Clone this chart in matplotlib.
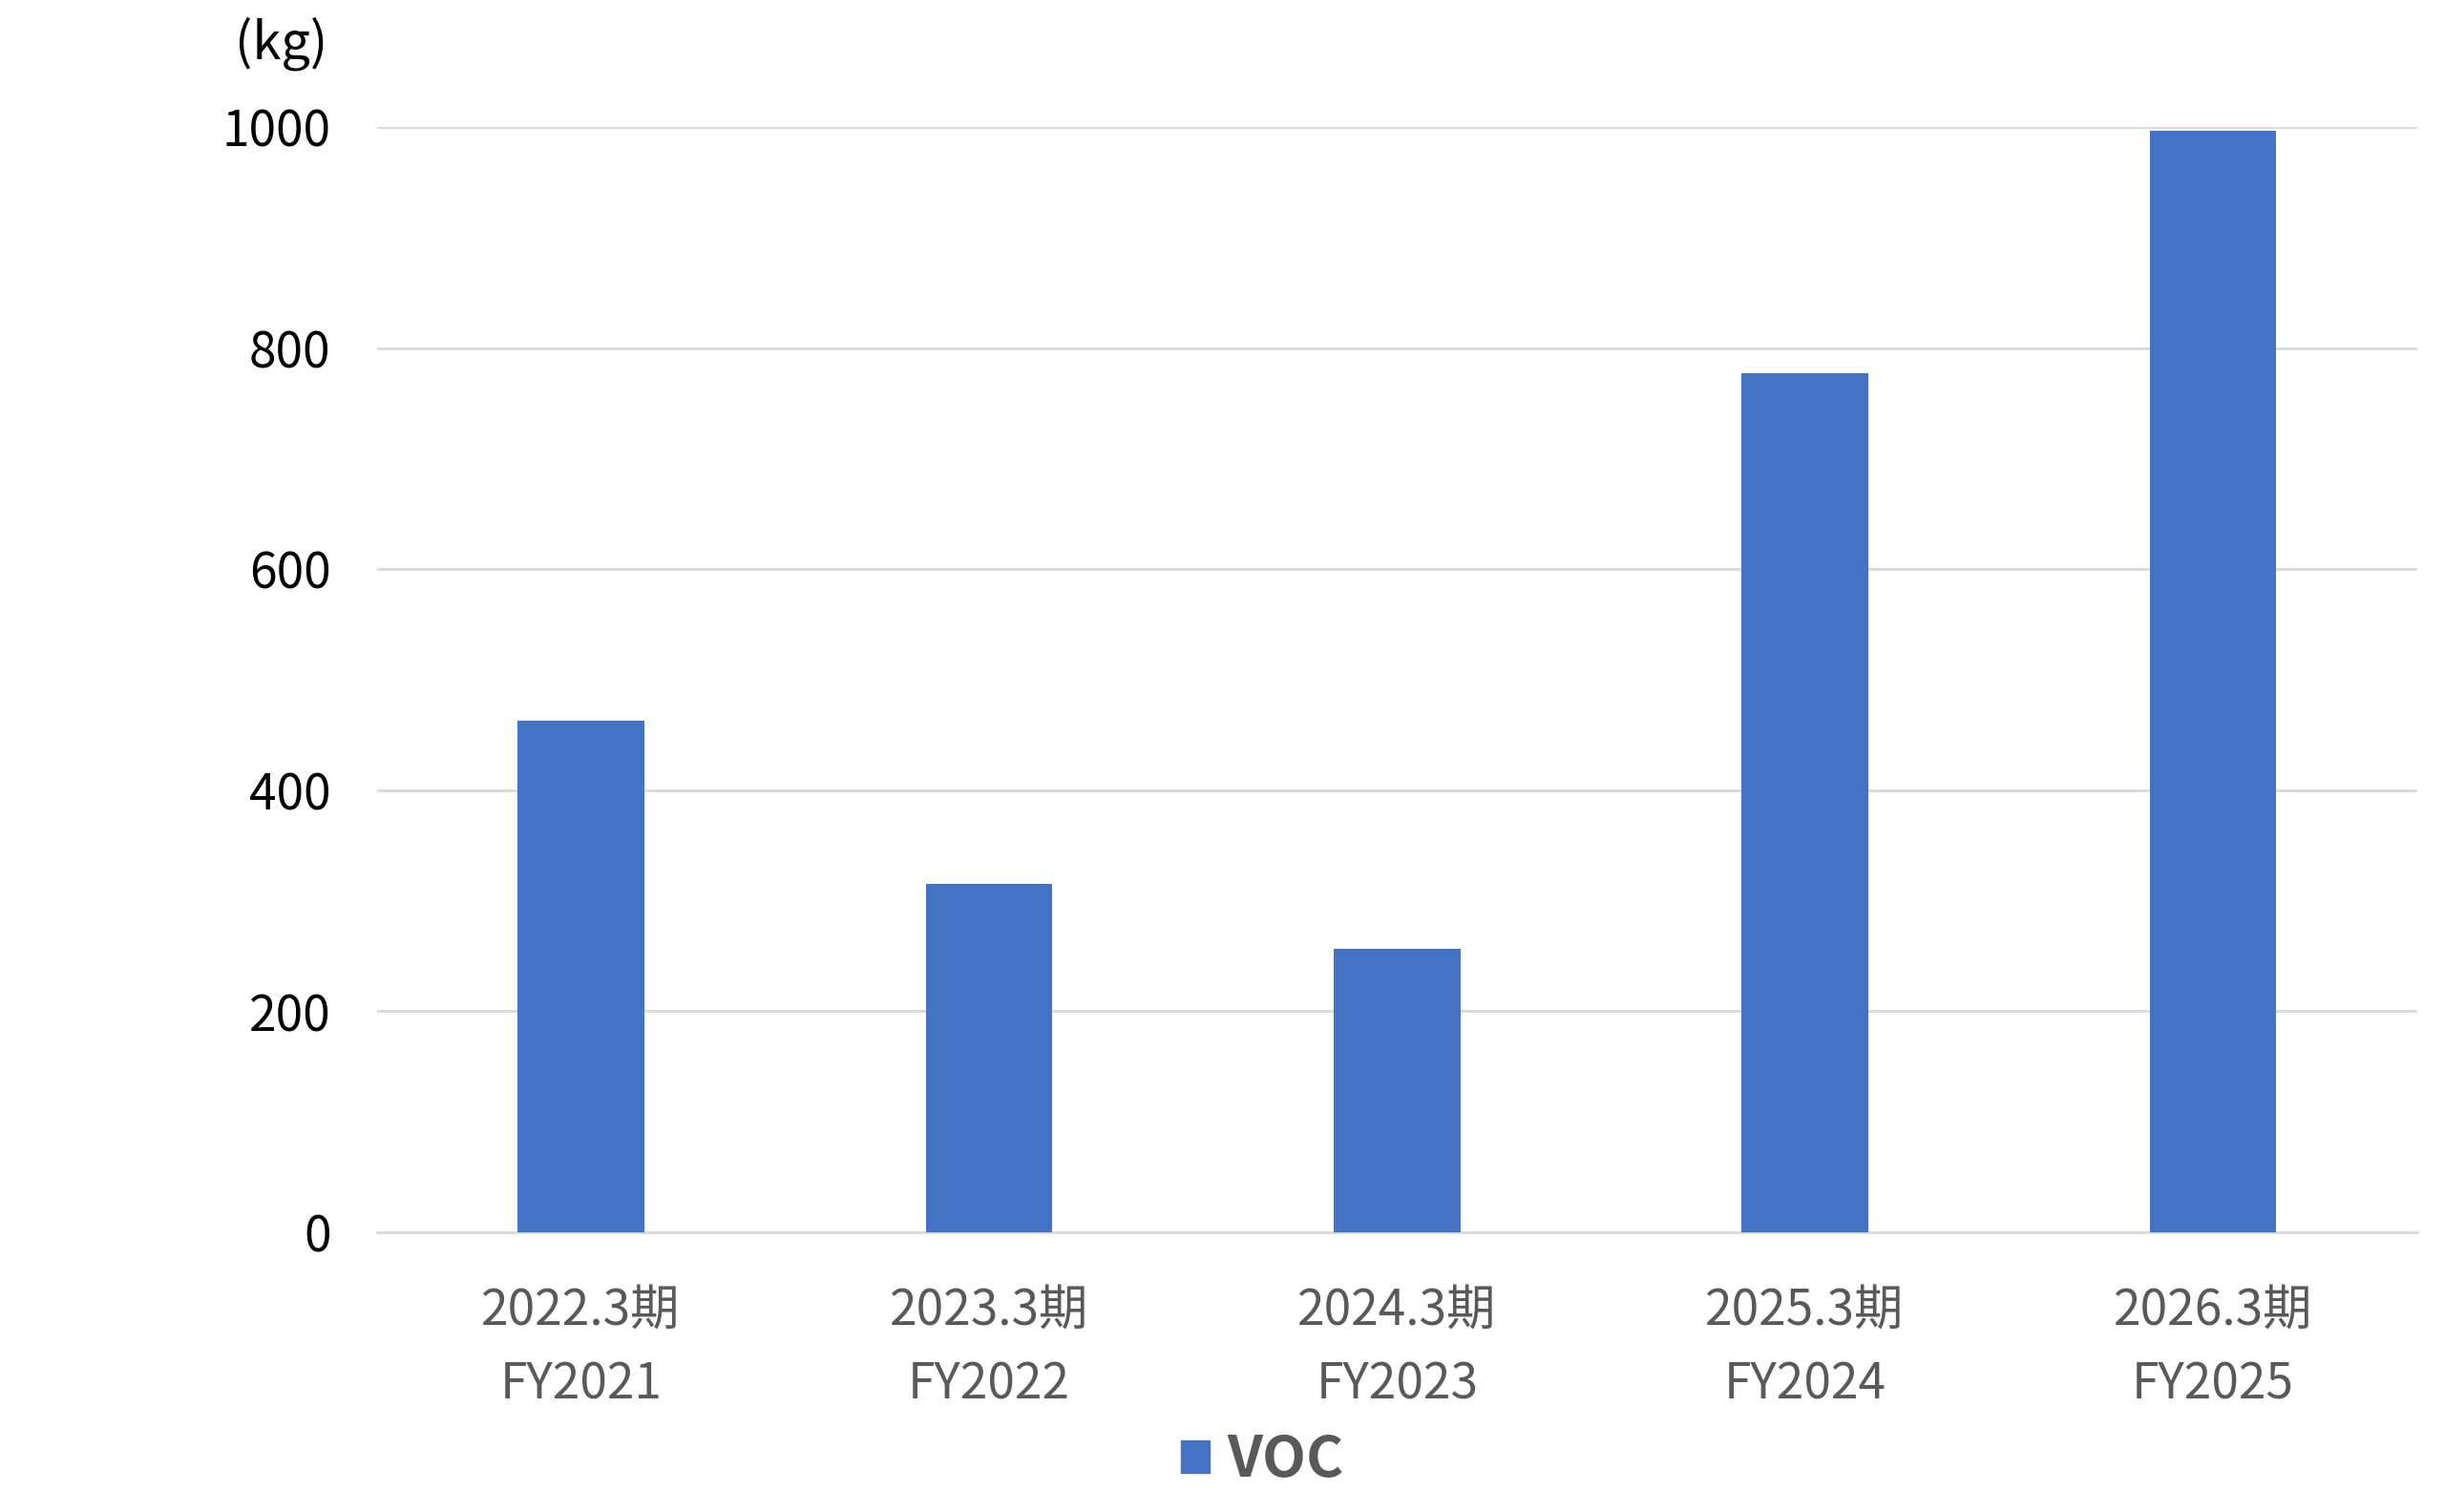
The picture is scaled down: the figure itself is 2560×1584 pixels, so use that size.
import matplotlib
matplotlib.use("Agg")
import matplotlib.pyplot as plt
from matplotlib.patches import Patch

plt.rcParams["font.family"] = ["Noto Sans CJK JP", "DejaVu Sans"]

# データ (kg)
periods = ["2022.3期", "2023.3期", "2024.3期", "2025.3期", "2026.3期"]
fiscal_years = ["FY2021", "FY2022", "FY2023", "FY2024", "FY2025"]
voc = [463, 315, 256, 777, 997]
y_ticks = [0, 200, 400, 600, 800, 1000]

BAR = "#4472C4"
GRID = "#D9D9D9"
GRAY = "#595959"

fig = plt.figure(figsize=(25.6, 15.84), dpi=100)
ax = fig.add_axes([0.1543, 0.1851, 0.8346, 0.7309])

x = range(len(periods))
ax.bar(x, voc, width=0.31, color=BAR, zorder=3)

ax.set_xlim(-0.5, len(periods) - 0.5)
ax.set_ylim(0, 1000)
ax.set_yticks(y_ticks)
ax.set_yticklabels([str(v) for v in y_ticks], fontsize=37, color="black")
ax.yaxis.grid(True, color=GRID, linewidth=2, zorder=0)
ax.set_axisbelow(True)

labels = [f"{p}\n{f}" for p, f in zip(periods, fiscal_years)]
ax.set_xticks(list(x))
ax.set_xticklabels(labels, fontsize=37, color=GRAY, linespacing=1.58)

ax.tick_params(axis="y", length=0, pad=35)
ax.tick_params(axis="x", length=0, pad=40)
for side in ("top", "right", "left"):
    ax.spines[side].set_visible(False)
ax.spines["bottom"].set_color(GRID)
ax.spines["bottom"].set_linewidth(2)

fig.text(0.134, 0.971, "(kg)", fontsize=39, ha="right", va="center", color="black")

leg = fig.legend(handles=[Patch(color=BAR, label="VOC")], loc="center",
                 bbox_to_anchor=(0.5165, 0.034), frameon=False,
                 handlelength=0.5, handleheight=0.5, handletextpad=0.3,
                 prop={"size": 43, "weight": "bold"})
for t in leg.get_texts():
    t.set_color(GRAY)

fig.savefig("out.png", dpi=100, facecolor="white")
